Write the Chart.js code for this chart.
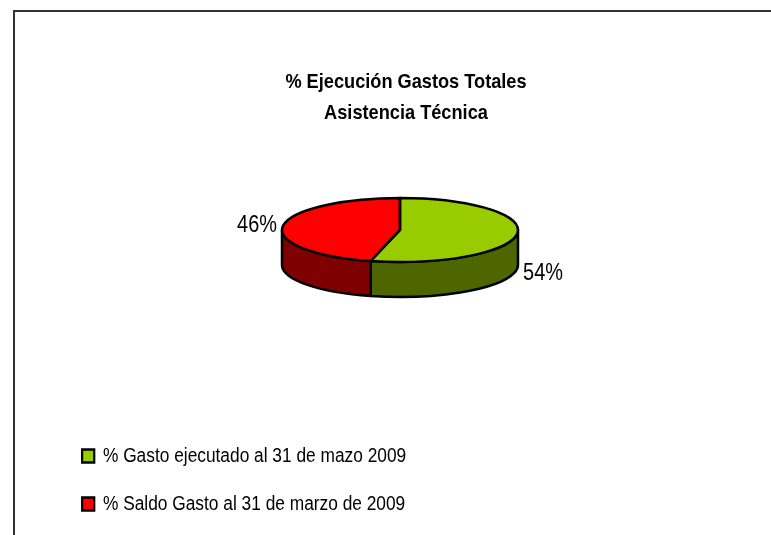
<!DOCTYPE html>
<html>
<head>
<meta charset="utf-8">
<style>
  html, body { margin: 0; padding: 0; background: #fff; overflow: hidden; }
  canvas { display: block; }
</style>
<script src="https://cdn.jsdelivr.net/npm/chart.js@4/dist/chart.umd.min.js"></script>
</head>
<body>
<canvas id="chart" width="771" height="535"></canvas>
<script>
const categories = ['% Gasto ejecutado al 31 de mazo 2009', '% Saldo Gasto al 31 de marzo de 2009'];
const values = [54, 46];
const topColors = ['#99cc00', '#ff0000'];
const wallColors = ['#4d6600', '#7f0000'];
const titleLines = ['% Ejecución Gastos Totales', 'Asistencia Técnica'];

const FONT = '"Liberation Sans", Arial, sans-serif';
const CENTER_Y = 230;
const TILT = 32 / 118;
const DEPTH = 35;
const NARROW = 0.866; // no narrow font installed, so text gets squeezed sideways

// draw a layout box (title, legend) squeezed around a fixed x
function squeeze(box, ctx, x0) {
    const draw = box.draw;
    box.draw = function (area) {
        ctx.save();
        ctx.translate(x0, 0);
        ctx.scale(NARROW, 1);
        ctx.translate(-x0, 0);
        draw.call(box, area);
        ctx.restore();
    };
}

// squashes the flat pie into a tilted disc and adds the side wall
const tiltedPie = {
    id: 'tiltedPie',
    afterInit(chart) {
        squeeze(chart.titleBlock, chart.ctx, 406);
        squeeze(chart.legend, chart.ctx, 83);
    },
    afterLayout(chart) {
        chart.titleBlock.left += 6;
        chart.titleBlock.right += 6;
        chart.legend.left -= 2;
        chart.legend.top -= 11;
        chart.legend.bottom -= 11;
    },
    beforeDraw(chart) {
        const ctx = chart.ctx;
        ctx.save();
        ctx.strokeStyle = '#333';
        ctx.lineWidth = 2;
        ctx.beginPath();
        ctx.moveTo(14, 535);
        ctx.lineTo(14, 11);
        ctx.lineTo(771, 11);
        ctx.stroke();
        ctx.restore();
    },
    beforeDatasetsDraw(chart) {
        const ctx = chart.ctx;
        const arcs = chart.getDatasetMeta(0).data;
        ctx.save();
        ctx.strokeStyle = '#000';
        ctx.lineWidth = 2.5;
        ctx.lineJoin = 'round';
        arcs.forEach((arc, i) => {
            const a0 = Math.max(arc.startAngle, 0);
            const a1 = Math.min(arc.endAngle, Math.PI);
            if (a1 <= a0) return;
            const r = arc.outerRadius;
            ctx.beginPath();
            ctx.ellipse(arc.x, CENTER_Y, r, r * TILT, 0, a0, a1);
            ctx.ellipse(arc.x, CENTER_Y + DEPTH, r, r * TILT, 0, a1, a0, true);
            ctx.closePath();
            ctx.fillStyle = wallColors[i];
            ctx.fill();
            ctx.stroke();
        });
        ctx.restore();

        const cy = arcs[0].y;
        ctx.save();
        ctx.translate(0, CENTER_Y);
        ctx.scale(1, TILT);
        ctx.translate(0, -cy);
    },
    afterDatasetsDraw(chart) {
        const ctx = chart.ctx;
        ctx.restore();
        const arcs = chart.getDatasetMeta(0).data;
        const total = values.reduce((acc, val) => acc + val, 0);
        ctx.save();
        ctx.strokeStyle = '#000';
        ctx.lineWidth = 2.5;
        ctx.lineJoin = 'round';
        arcs.forEach(arc => {
            const r = arc.outerRadius;
            ctx.beginPath();
            ctx.moveTo(arc.x, CENTER_Y);
            ctx.ellipse(arc.x, CENTER_Y, r, r * TILT, 0, arc.startAngle, arc.endAngle);
            ctx.closePath();
            ctx.stroke();
        });
        ctx.fillStyle = '#000';
        ctx.font = '23px ' + FONT;
        ctx.textBaseline = 'middle';
        arcs.forEach((arc, i) => {
            const mid = (arc.startAngle + arc.endAngle) / 2;
            const r = arc.outerRadius;
            const px = arc.x + Math.cos(mid) * r;
            const py = CENTER_Y + Math.sin(mid) * r * TILT;
            const right = Math.cos(mid) > 0;
            const text = Math.round(values[i] / total * 100) + '%';
            ctx.save();
            ctx.translate(px + (right ? 6 : -6), Math.sin(mid) > 0 ? py + DEPTH + 5 : py);
            ctx.scale(NARROW, 1);
            ctx.textAlign = right ? 'left' : 'right';
            ctx.fillText(text, 0, 0);
            ctx.restore();
        });
        ctx.restore();
    }
};

new Chart(document.getElementById('chart'), {
    type: 'pie',
    data: {
        labels: categories,
        datasets: [{
            data: values,
            backgroundColor: topColors,
            borderWidth: 0,
            radius: 118
        }]
    },
    options: {
        responsive: false,
        animation: false,
        layout: { padding: { left: 56, right: 27 } },
        plugins: {
            tooltip: { enabled: false },
            title: {
                display: true,
                text: titleLines,
                color: '#000',
                font: { family: FONT, size: 21, weight: 'bold', lineHeight: 1.48 },
                padding: { top: 67, bottom: 0 }
            },
            legend: {
                position: 'bottom',
                align: 'start',
                fullSize: false,
                labels: {
                    color: '#000',
                    font: { family: FONT, size: 20 },
                    boxWidth: 14,
                    boxHeight: 13,
                    padding: 28,
                    generateLabels(chart) {
                        return Chart.overrides.pie.plugins.legend.labels.generateLabels(chart).map(item => {
                            item.lineWidth = 2.5;
                            item.strokeStyle = '#000';
                            return item;
                        });
                    }
                }
            }
        }
    },
    plugins: [tiltedPie]
});
</script>
</body>
</html>
